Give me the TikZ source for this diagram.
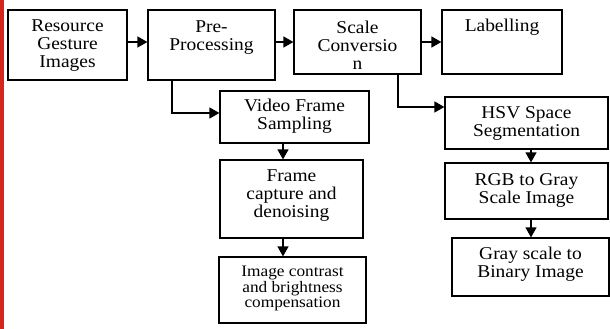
\documentclass[tikz,border=0pt]{standalone}
\usepackage{fontspec}
\setmainfont{Liberation Serif}
\newfontfamily\mainf[FakeStretch=1.08]{Liberation Serif}
\usetikzlibrary{arrows.meta}
\definecolor{redbar}{RGB}{212,38,28}
\tikzset{
  box/.style={draw=black, line width=1.2pt, rectangle, inner sep=0pt},
  txt/.style={align=center, inner sep=0pt, font=\mainf\fontsize{18}{18}\selectfont},
  smalltxt/.style={align=center, inner sep=0pt, font=\mainf\fontsize{16}{15.5}\selectfont},
  arr/.style={draw=black, line width=1.2pt, -{Triangle[length=10pt,width=11pt]}}
}
\begin{document}
\begin{tikzpicture}[x=1pt,y=-1pt]
\useasboundingbox (0,0) rectangle (610,329);
\fill[redbar] (0,0) rectangle (4,329);
% boxes
\node[box, minimum width=119pt, minimum height=70pt] (res) at (67.5,45) {};
\node[box, minimum width=127pt, minimum height=70pt] (pre) at (211.5,45) {};
\node[box, minimum width=127pt, minimum height=64pt] (scale) at (357.5,42) {};
\node[box, minimum width=120pt, minimum height=64pt] (lab) at (502,42) {};
\node[box, minimum width=149pt, minimum height=52pt] (video) at (294.5,117) {};
\node[box, minimum width=143pt, minimum height=78pt] (frame) at (291.5,199) {};
\node[box, minimum width=147pt, minimum height=66pt] (img) at (292.5,290) {};
\node[box, minimum width=163pt, minimum height=52pt] (hsv) at (526.5,123) {};
\node[box, minimum width=163pt, minimum height=56pt] (rgb) at (526.5,191) {};
\node[box, minimum width=157pt, minimum height=58pt] (gray) at (530.5,267) {};
% texts
\node[txt] (rest) at (67.5,46) {Resource\\Gesture\\Images};
\node[txt] (pret) at (211.5,37.5) {Pre-\\Processing};
\node[txt] (scalet) at (357.5,45) {Scale\\Conversio\\n};
\node[txt] (labt) at (502,27) {Labelling};
\node[txt] (videot) at (294.5,116) {Video Frame\\Sampling};
\node[txt] (framet) at (291.5,196) {Frame\\capture and\\denoising};
\node[smalltxt] (imgt) at (292.5,288.5) {Image contrast\\and brightness\\compensation};
\node[txt] (hsvt) at (526.5,123) {HSV Space\\Segmentation};
\node[txt] (rgbt) at (526.5,190) {RGB to Gray\\Scale Image};
\node[txt] (grayt) at (530.5,264) {Gray scale to\\Binary Image};
% connectors
\draw[arr] ([yshift=3pt]res.east) -- ([yshift=3pt]pre.west);
\draw[arr] (pre.east |- scale.west) -- (scale.west);
\draw[arr] (scale.east) -- (lab.west);
\draw[arr] ([xshift=-39.5pt]pre.south) |- ([yshift=4pt]video.west);
\draw[arr] ([xshift=40.5pt]scale.south) |- ([yshift=16pt]hsv.west);
\draw[arr] ([xshift=-11.5pt]video.south) coordinate (v1) -- (v1 |- frame.north);
\draw[arr] ([xshift=-8.5pt]frame.south) coordinate (f1) -- (f1 |- img.north);
\draw[arr] ([xshift=4.5pt]hsv.south) coordinate (h1) -- (h1 |- rgb.north);
\draw[arr] ([xshift=4.5pt]rgb.south) coordinate (r1) -- (r1 |- gray.north);
\end{tikzpicture}
\end{document}
